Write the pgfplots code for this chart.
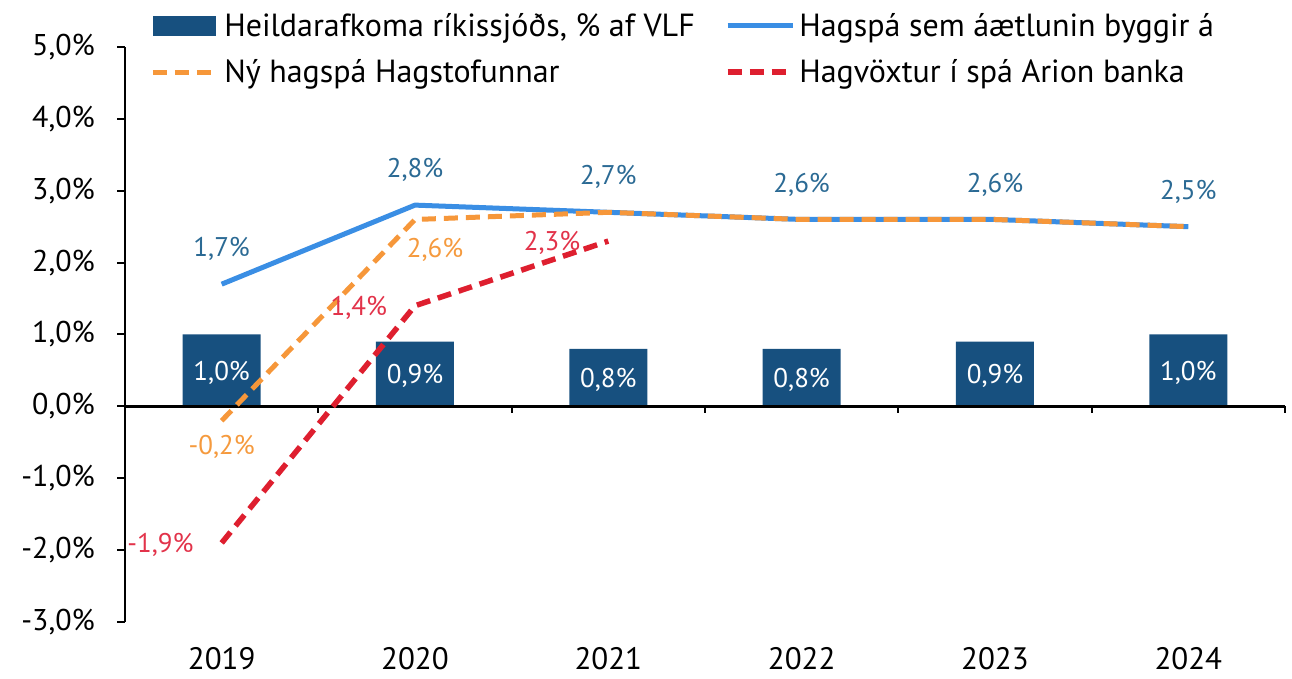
\documentclass[border=0pt]{standalone}
\usepackage{pgfplots}
\pgfplotsset{compat=1.18}
\usepackage{fontspec}
\setmainfont{PT Sans}
\definecolor{barblue}{HTML}{17507F}
\definecolor{lineblue}{HTML}{3A8EE4}
\definecolor{lineorange}{HTML}{F6973A}
\definecolor{linered}{HTML}{DE1F2F}
\definecolor{lblblue}{HTML}{2B6A94}
\definecolor{lblorange}{HTML}{F59A3E}
\definecolor{lblred}{HTML}{E2334A}
\pgfkeys{/pgf/number format/.cd, use comma, fixed, fixed zerofill, precision=1, assume math mode=true}
\begin{document}
\begin{tikzpicture}
\path[use as bounding box] (0,0) rectangle (1292pt,679pt);
\begin{axis}[
  at={(125pt,57pt)}, anchor=south west,
  scale only axis, width=1160pt, height=575pt,
  xmin=-0.5, xmax=5.5, ymin=-3, ymax=5,
  axis y line*=left, axis x line*=bottom,
  x axis line style={draw=none},
  y axis line style={black, line width=2.5pt},
  xtick={0,1,2,3,4,5},
  xticklabels={2019,2020,2021,2022,2023,2024},
  xtick style={draw=none},
  xticklabel style={font=\fontsize{31}{36}\selectfont, inner sep=0pt, anchor=north, yshift=-17pt},
  ytick={-3,-2,-1,0,1,2,3,4,5},
  yticklabels={{-3,0\%},{-2,0\%},{-1,0\%},{0,0\%},{1,0\%},{2,0\%},{3,0\%},{4,0\%},{5,0\%}},
  yticklabel style={font=\fontsize{30}{36}\selectfont, inner sep=0pt, anchor=east, xshift=-22pt},
  ytick style={black, line width=2pt},
  major tick length=8pt, tick align=outside,
  clip=false,
  legend columns=2,
  legend cell align=left,
  legend style={at={(0.0216,1.066)}, anchor=north west, draw=none, fill=none,
    font=\fontsize{32}{38}\selectfont, inner sep=0pt,
    /tikz/every even column/.append style={column sep=26pt},
    /tikz/row sep=14pt,
    nodes={inner sep=4pt}},
]
% bars
\addplot[ybar, bar width=78pt, fill=barblue, draw=none,
  legend image code/.code={\fill[barblue] (0pt,-10pt) rectangle (63pt,10pt);}]
  coordinates {(0,1.0) (1,0.9) (2,0.8) (3,0.8) (4,0.9) (5,1.0)};
\addlegendentry{Heildarafkoma ríkissjóðs, \% af VLF}
% zero line and category ticks
\draw[black, line width=2.5pt] (axis cs:-0.5,0) -- (axis cs:5.5,0);
\pgfplotsinvokeforeach{0.5,1.5,2.5,3.5,4.5,5.5}{
  \draw[black, line width=2pt] (axis cs:#1,0) -- ++(0pt,-7pt);
}
% blue line
\addplot[lineblue, line width=5pt, line join=round, mark=none,
  nodes near coords={\pgfmathprintnumber{\pgfplotspointmeta}\%},
  nodes near coords style={lblblue, anchor=center, yshift=35pt, font=\fontsize{27}{30}\selectfont},
  legend image code/.code={\draw[lineblue, line width=5pt] (0pt,0pt) -- (65pt,0pt);}]
  coordinates {(0,1.7) (1,2.8) (2,2.7) (3,2.6) (4,2.6) (5,2.5)};
\addlegendentry{Hagspá sem áætlunin byggir á}
% orange dashed
\addplot[lineorange, line width=5pt, dash pattern=on 14pt off 8pt, mark=none,
  legend image code/.code={\draw[lineorange, line width=5pt, dash pattern=on 14pt off 8pt] (0pt,0pt) -- (65pt,0pt);}]
  coordinates {(0,-0.2) (1,2.6) (2,2.7) (3,2.6) (4,2.6) (5,2.5)};
\addlegendentry{Ný hagspá Hagstofunnar}
% red dashed
\addplot[linered, line width=5.5pt, dash pattern=on 14pt off 8pt, mark=none,
  nodes near coords={\pgfmathprintnumber{\pgfplotspointmeta}\%},
  nodes near coords style={lblred, anchor=east, xshift=-22pt, yshift=-2pt, font=\fontsize{27}{30}\selectfont},
  legend image code/.code={\draw[linered, line width=5.5pt, dash pattern=on 14pt off 8pt] (0pt,0pt) -- (65pt,0pt);}]
  coordinates {(0,-1.9) (1,1.4) (2,2.3)};
\addlegendentry{Hagvöxtur í spá Arion banka}
% orange labels
\addplot[draw=none, mark=none, forget plot,
  nodes near coords={\pgfmathprintnumber{\pgfplotspointmeta}\%},
  nodes near coords style={lblorange, anchor=center, yshift=-26pt, font=\fontsize{27}{30}\selectfont}]
  coordinates {(0,-0.2)};
\addplot[draw=none, mark=none, forget plot,
  nodes near coords={\pgfmathprintnumber{\pgfplotspointmeta}\%},
  nodes near coords style={lblorange, anchor=center, xshift=20pt, yshift=-30pt, font=\fontsize{27}{30}\selectfont}]
  coordinates {(1,2.6)};
% bar labels
\addplot[draw=none, mark=none, forget plot, point meta=explicit,
  nodes near coords={\pgfmathprintnumber{\pgfplotspointmeta}\%},
  nodes near coords style={white, anchor=center, yshift=-2pt, font=\fontsize{27}{30}\selectfont}]
  coordinates {(0,0.5)[1.0] (1,0.45)[0.9] (2,0.4)[0.8] (3,0.4)[0.8] (4,0.45)[0.9] (5,0.5)[1.0]};
\end{axis}
\end{tikzpicture}
\end{document}
